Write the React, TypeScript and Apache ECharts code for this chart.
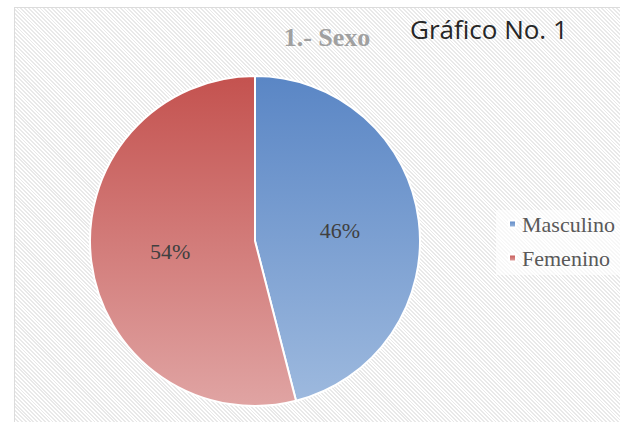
import React, { useEffect, useRef } from "react";
import * as echarts from "echarts";

const categories = ["Masculino", "Femenino"];
const values = [46, 54];
const chartTitle = "1.- Sexo";
const figureLabel = "Gráfico No. 1";

const gradients = [
  ["#5a86c5", "#9db9de"],
  ["#c4524f", "#e0a4a3"],
];

const serif = "'Liberation Serif', 'Times New Roman', serif";

export default function App() {
  const ref = useRef<HTMLDivElement>(null);
  useEffect(() => {
    if (!ref.current) return;
    const chart = echarts.init(ref.current, undefined, { renderer: "svg" });
    chart.setOption({
      animation: false,
      backgroundColor: "transparent",
      textStyle: { fontFamily: serif },
      graphic: [
        {
          type: "text",
          x: 327,
          y: 37,
          style: {
            text: chartTitle,
            fill: "#a0a0a0",
            font: "bold 26px 'Liberation Serif', serif",
            textAlign: "center",
            textVerticalAlign: "middle",
          },
        },
        {
          type: "text",
          x: 410,
          y: 29,
          style: {
            text: figureLabel,
            fill: "#262626",
            font: "26px 'Open Sans', sans-serif",
            textAlign: "left",
            textVerticalAlign: "middle",
          },
        },
      ],
      legend: {
        orient: "vertical",
        left: 496,
        top: 210,
        padding: [3, 30, 6, 12],
        backgroundColor: "rgba(255,255,255,0.65)",
        icon: "rect",
        itemWidth: 7,
        itemHeight: 7,
        itemGap: 12,
        data: categories,
        textStyle: {
          fontFamily: serif,
          fontSize: 22,
          lineHeight: 22,
          color: "#595959",
          padding: [0, 0, 0, 1],
        },
      },
      series: [
        {
          type: "pie",
          center: [255, 241],
          radius: 165,
          startAngle: 90,
          clockwise: true,
          percentPrecision: 0,
          itemStyle: { borderColor: "#ffffff", borderWidth: 2 },
          label: {
            position: "inside",
            formatter: "{d}%",
            fontFamily: serif,
            fontSize: 22,
            color: "#404040",
          },
          labelLine: { show: false },
          emphasis: { disabled: true },
          data: categories.map((name, i) => ({
            name,
            value: values[i],
            itemStyle: {
              color: {
                type: "linear",
                x: 0,
                y: 0,
                x2: 0,
                y2: 1,
                colorStops: [
                  { offset: 0, color: gradients[i][0] },
                  { offset: 1, color: gradients[i][1] },
                ],
              },
            },
          })),
        },
      ],
    });
    return () => chart.dispose();
  }, []);

  return (
    <div
      style={{
        position: "fixed",
        left: 0,
        top: 0,
        width: 620,
        height: 422,
        background: "#ffffff",
        overflow: "hidden",
      }}
    >
      <div
        style={{
          position: "absolute",
          left: 14,
          top: 7,
          width: 640,
          height: 440,
          border: "1px solid #dcdcdc",
          background:
            "repeating-linear-gradient(45deg, #ffffff 0px, #ffffff 1.4px, #e9e9e9 1.4px, #e9e9e9 2.7px)",
        }}
      />
      <div
        ref={ref}
        style={{ position: "absolute", left: 0, top: 0, width: 620, height: 422 }}
      />
    </div>
  );
}
